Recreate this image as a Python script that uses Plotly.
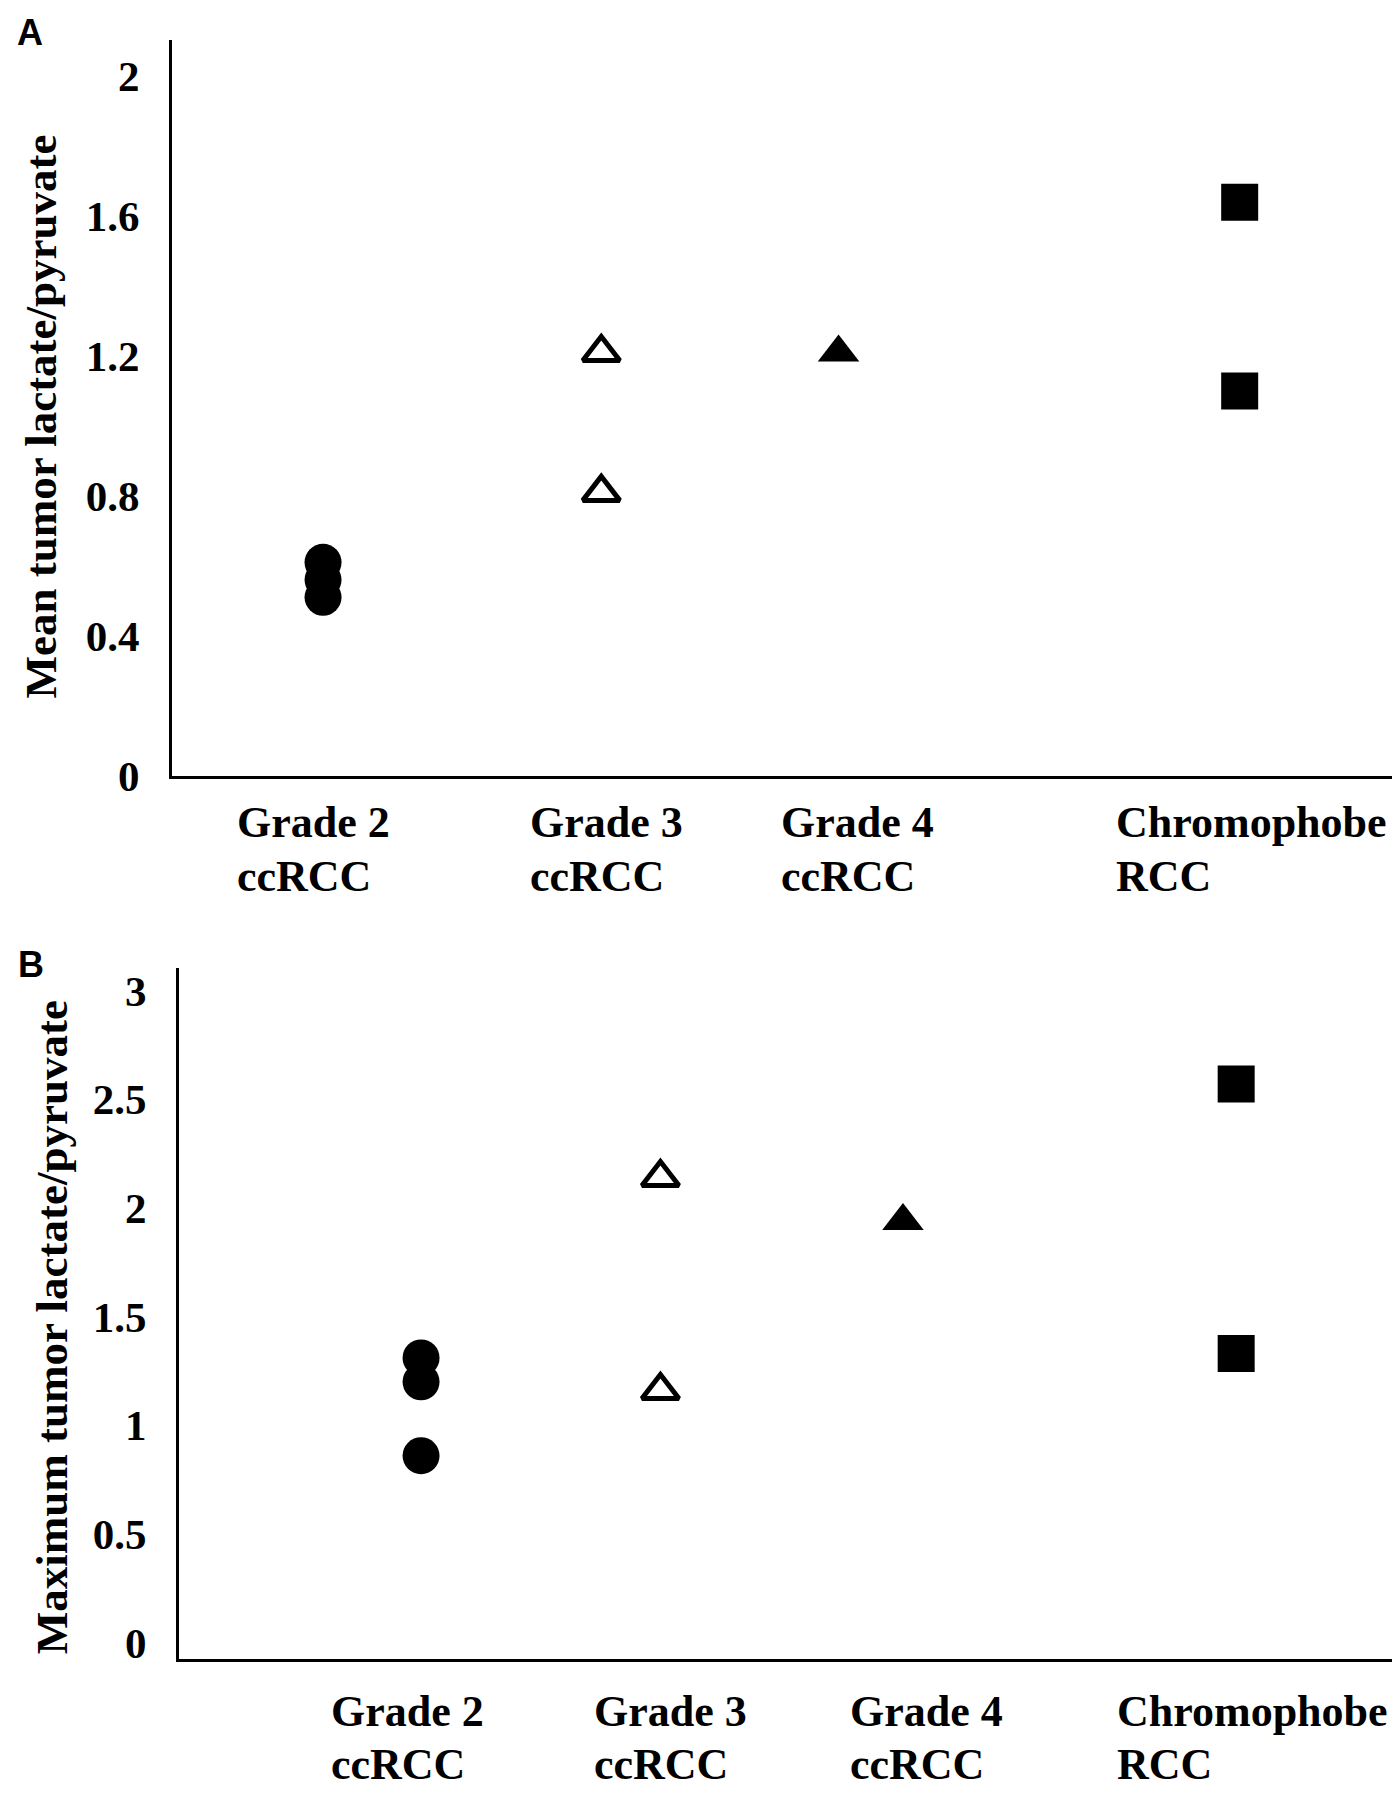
import plotly.graph_objects as go

# 데이터
label_line1 = ["Grade 2", "Grade 3", "Grade 4", "Chromophobe"]
label_line2 = ["ccRCC", "ccRCC", "ccRCC", "RCC"]

# A: mean tumor lactate/pyruvate
mean_g2 = [0.61, 0.56, 0.51]
mean_g3 = [1.21, 0.81]
mean_g4 = [1.21]
mean_chromo = [1.64, 1.10]

# B: maximum tumor lactate/pyruvate
max_g2 = [1.31, 1.20, 0.86]
max_g3 = [2.14, 1.16]
max_g4 = [1.94]
max_chromo = [2.57, 1.33]

mean_ticks = [0, 0.4, 0.8, 1.2, 1.6, 2]
mean_ticktext = ["0", "0.4", "0.8", "1.2", "1.6", "2"]
max_ticks = [0, 0.5, 1, 1.5, 2, 2.5, 3]
max_ticktext = ["0", "0.5", "1", "1.5", "2", "2.5", "3"]

W, H = 1400, 1800
SERIF = "Liberation Serif, Times New Roman, serif"
SANS = "Liberation Sans, Arial, sans-serif"


def fx(p):
    return p / W


def fy(p):
    return 1 - p / H


# 카테고리별 x 위치 (축 안에서의 비율) 과 마커 모양
x_pos_A = [0.1235, 0.351, 0.545, 0.873]
x_pos_B = [0.1976, 0.393, 0.591, 0.863]
markers = [
    dict(symbol="circle", size=37, color="black"),
    dict(symbol="triangle-up-open", size=32, color="black", line=dict(width=5, color="black")),
    dict(symbol="triangle-up", size=36, color="black"),
    dict(symbol="square", size=37, color="black"),
]

fig = go.Figure()

for pos, vals, mk in zip(x_pos_A, [mean_g2, mean_g3, mean_g4, mean_chromo], markers):
    fig.add_trace(go.Scatter(x=[pos] * len(vals), y=vals, mode="markers",
                             marker=mk, xaxis="x", yaxis="y", showlegend=False))

for pos, vals, mk in zip(x_pos_B, [max_g2, max_g3, max_g4, max_chromo], markers):
    fig.add_trace(go.Scatter(x=[pos] * len(vals), y=vals, mode="markers",
                             marker=mk, xaxis="x2", yaxis="y2", showlegend=False))

axis_common = dict(showline=True, linecolor="black", linewidth=3, showgrid=False,
                   zeroline=False, ticks="")
tickfont = dict(family=SERIF, size=43, color="black", weight="bold")

fig.update_layout(
    width=W, height=H,
    margin=dict(l=0, r=0, t=0, b=0),
    plot_bgcolor="white", paper_bgcolor="white",
    xaxis=dict(domain=[fx(164), fx(1387)], range=[0, 1], showticklabels=False,
               anchor="y", **axis_common),
    yaxis=dict(domain=[fy(778), fy(32)], range=[0, 2.105], tickvals=mean_ticks,
               ticktext=mean_ticktext, tickfont=tickfont, ticklabelstandoff=21,
               anchor="x", **axis_common),
    xaxis2=dict(domain=[fx(171), fx(1396)], range=[0, 1], showticklabels=False,
                anchor="y2", **axis_common),
    yaxis2=dict(domain=[fy(1673), fy(973)], range=[-0.074, 3.104], tickvals=max_ticks,
                ticktext=max_ticktext, tickfont=tickfont, ticklabelstandoff=21,
                anchor="x2", **axis_common),
)

ann = []
# 패널 라벨
ann.append(dict(text="A", x=fx(22), y=fy(25), font=dict(family=SANS, size=36, weight="bold")))
ann.append(dict(text="B", x=fx(23), y=fy(969), font=dict(family=SANS, size=36, weight="bold")))
# y축 제목
ann.append(dict(text="Mean tumor lactate/pyruvate", x=fx(33), y=fy(414), textangle=-90,
                font=dict(family=SERIF, size=45, weight="bold")))
ann.append(dict(text="Maximum tumor lactate/pyruvate", x=fx(44), y=fy(1337), textangle=-90,
                font=dict(family=SERIF, size=45, weight="bold")))

# x축 카테고리 라벨 (왼쪽 정렬 텍스트 박스)
lab_left_A = [227, 520, 771, 1106]
lab_left_B = [321, 584, 840, 1107]
for lefts, y1, y2 in [(lab_left_A, 826, 880), (lab_left_B, 1727, 1780)]:
    for left, t1, t2 in zip(lefts, label_line1, label_line2):
        ann.append(dict(text=t1, x=fx(left), y=fy(y1), xanchor="left",
                        font=dict(family=SERIF, size=44, weight="bold")))
        ann.append(dict(text=t2, x=fx(left), y=fy(y2), xanchor="left",
                        font=dict(family=SERIF, size=44, weight="bold")))

for a in ann:
    a.setdefault("xanchor", "center")
    a.update(xref="paper", yref="paper", yanchor="middle", showarrow=False)
    a["font"]["color"] = "black"

fig.update_layout(annotations=ann)
fig.write_html("out.html")
